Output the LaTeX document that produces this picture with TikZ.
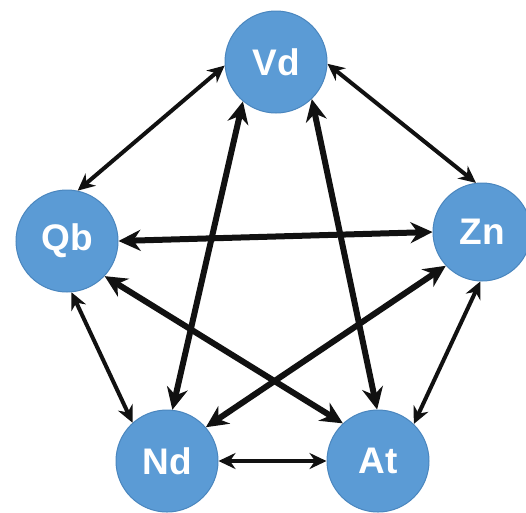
\documentclass[tikz,border=0pt]{standalone}
\usepackage{fontspec}
\setmainfont{Liberation Sans}
\usetikzlibrary{arrows.meta}
\definecolor{ballfill}{HTML}{5B9BD5}
\definecolor{balledge}{HTML}{4A86BE}
\definecolor{ink}{HTML}{111111}
\tikzset{
  ball/.style={circle, fill=ballfill, draw=balledge, line width=1pt, inner sep=0pt,
    minimum size=102pt, text=white, font=\fontsize{37}{37}\selectfont\bfseries},
  side/.style={draw=ink, line width=4pt,
    {Stealth[length=17pt,width=16pt]}-{Stealth[length=17pt,width=16pt]}},
  diag/.style={draw=ink, line width=6pt,
    {Stealth[length=22pt,width=21pt]}-{Stealth[length=22pt,width=21pt]}}
}
\begin{document}
\begin{tikzpicture}[x=1pt,y=-1pt]
\useasboundingbox (0,0) rectangle (526,512);
\node[ball] (Vd) at (276,62) {Vd};
\node[ball] (Qb) at (67,241) {Qb};
\node[ball, minimum size=98pt] (Zn) at (482,232) {Zn};
\node[ball] (Nd) at (167,461) {Nd};
\node[ball] (At) at (378,461) {At};
% pentagon sides
\draw[side] (Vd.184) -- (Qb.78);
\draw[side] (Vd.358) -- (Zn.97);
\draw[side] (Qb.275) -- (Nd.132);
\draw[side] (Zn.268) -- (At.46);
\draw[side] (Nd.0) -- (At.180);
% diagonals
\draw[diag] (Qb.0) -- (Zn.180);
\draw[diag] (Qb.317) -- (At.133);
\draw[diag] (Zn.223) -- (Nd.41);
\draw[diag] (Vd.230) -- (Nd.84);
\draw[diag] (Vd.314) -- (At.91);
\end{tikzpicture}
\end{document}
